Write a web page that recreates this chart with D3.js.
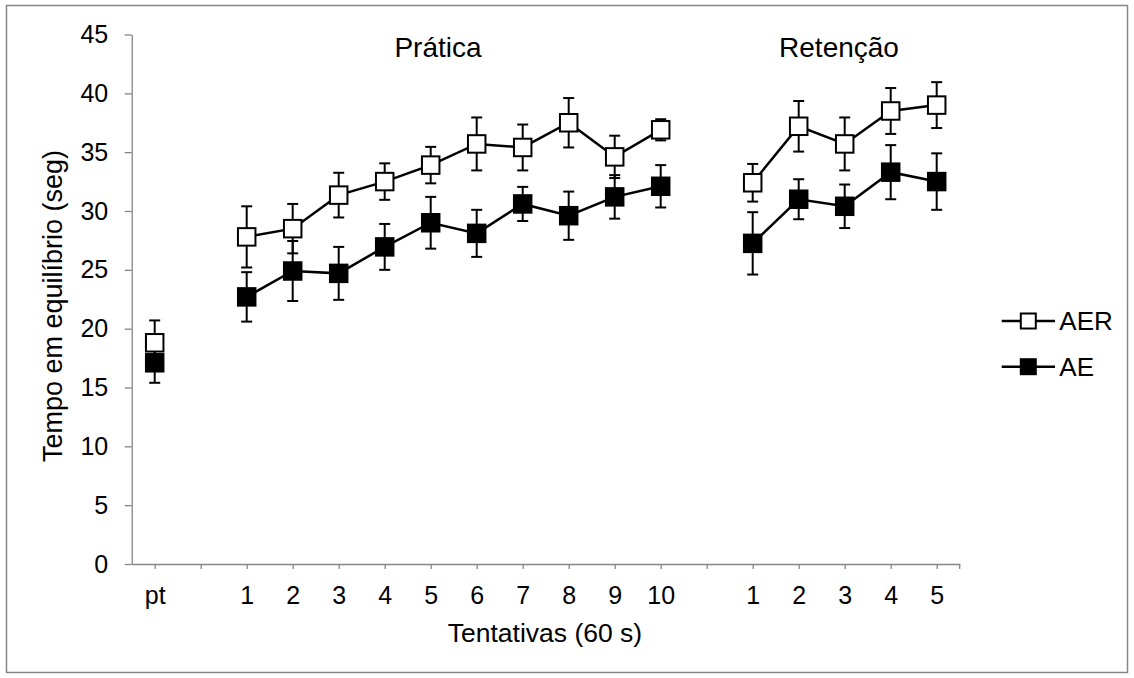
<!DOCTYPE html>
<html>
<head>
<meta charset="utf-8">
<script src="https://cdn.jsdelivr.net/npm/d3@7"></script>
<style>
  body { margin: 0; background: #fff; }
  text { font-family: "Liberation Sans", Arial, sans-serif; fill: #000; }
</style>
</head>
<body>
<div id="chart"></div>
<script>
// x slots: pt, gap, practice 1-10, gap, retention 1-5
const slotLabels = ["pt", "", "1", "2", "3", "4", "5", "6", "7", "8", "9", "10", "", "1", "2", "3", "4", "5"];
const aerMean = [18.8, null, 27.8, 28.5, 31.35, 32.5, 33.9, 35.7, 35.4, 37.5, 34.6, 36.9, null, 32.4, 37.2, 35.7, 38.5, 39.0];
const aerErr  = [1.9, null, 2.6, 2.1, 1.9, 1.55, 1.55, 2.25, 1.95, 2.1, 1.8, 0.9, null, 1.6, 2.15, 2.25, 1.95, 1.95];
const aeMean  = [17.1, null, 22.7, 24.9, 24.7, 26.95, 29.0, 28.1, 30.6, 29.6, 31.2, 32.1, null, 27.25, 31.0, 30.4, 33.3, 32.5];
const aeErr   = [1.7, null, 2.1, 2.55, 2.25, 1.95, 2.2, 2.0, 1.45, 2.05, 1.85, 1.8, null, 2.65, 1.7, 1.85, 2.3, 2.4];
const yTicks = [0, 5, 10, 15, 20, 25, 30, 35, 40, 45];
const groupTitles = ["Prática", "Retenção"];
const seriesNames = ["AER", "AE"];

const canvWidth = 1134, canvHeight = 678;
const svg = d3.select("#chart").append("svg")
    .attr("width", canvWidth)
    .attr("height", canvHeight);

// outer chart frame
svg.append("rect")
    .attr("x", 6.5).attr("y", 5.5)
    .attr("width", 1121).attr("height", 667)
    .attr("fill", "none")
    .attr("stroke", "#868686")
    .attr("stroke-width", 1.5);

const plot = {left: 131.7, right: 959.7, top: 34.5, bottom: 564};

const xScale = d3.scalePoint()
    .domain(d3.range(slotLabels.length))
    .range([plot.left, plot.right])
    .padding(0.5);

const yScale = d3.scaleLinear()
    .domain([0, 45])
    .range([plot.bottom, plot.top]);

// y axis
const yAxis = d3.axisLeft(yScale)
    .tickValues(yTicks)
    .tickSize(7)
    .tickSizeOuter(0)
    .tickPadding(16.5);
const gy = svg.append("g")
    .attr("transform", "translate(" + plot.left + ",0)")
    .call(yAxis);
gy.selectAll("text").style("font-size", "25px");

// x axis
const xAxis = d3.axisBottom(xScale)
    .tickFormat(i => slotLabels[i])
    .tickSize(5)
    .tickSizeOuter(0)
    .tickPadding(17);
const gx = svg.append("g")
    .attr("transform", "translate(0," + plot.bottom + ")")
    .call(xAxis);
gx.selectAll("text").style("font-size", "25px");
// closing tick at the right end of the axis
gx.append("line")
    .attr("x1", xScale.range()[1]).attr("x2", xScale.range()[1])
    .attr("y1", 0).attr("y2", 5);

svg.selectAll(".domain, .tick line, g > line")
    .attr("stroke", "#868686")
    .attr("stroke-width", 1.3);

// titles
svg.append("text")
    .attr("transform", "translate(62,306) rotate(-90)")
    .style("text-anchor", "middle")
    .style("font-size", "27px")
    .text("Tempo em equilíbrio (seg)");

svg.append("text")
    .attr("x", 545).attr("y", 642)
    .style("text-anchor", "middle")
    .style("font-size", "26.5px")
    .text("Tentativas (60 s)");

const titleX = [438, 839];
svg.selectAll(".group-title")
    .data(groupTitles)
    .enter().append("text")
    .attr("class", "group-title")
    .attr("x", (d, i) => titleX[i])
    .attr("y", 56.5)
    .style("text-anchor", "middle")
    .style("font-size", "28px")
    .text(d => d);

const series = [
  {name: seriesNames[0], mean: aerMean, err: aerErr, fill: "#fff"},
  {name: seriesNames[1], mean: aeMean, err: aeErr, fill: "#000"}
];

// error bars below everything
const capW = 11;
series.forEach(s => {
  const pts = s.mean.map((v, i) => ({i: i, v: v, e: s.err[i]})).filter(d => d.v != null);
  const eb = svg.append("g");
  eb.selectAll("line.stem").data(pts).enter().append("line")
      .attr("x1", d => xScale(d.i)).attr("x2", d => xScale(d.i))
      .attr("y1", d => yScale(d.v - d.e)).attr("y2", d => yScale(d.v + d.e))
      .attr("stroke", "#000").attr("stroke-width", 2);
  eb.selectAll("line.capt").data(pts).enter().append("line")
      .attr("x1", d => xScale(d.i) - capW / 2).attr("x2", d => xScale(d.i) + capW / 2)
      .attr("y1", d => yScale(d.v + d.e)).attr("y2", d => yScale(d.v + d.e))
      .attr("stroke", "#000").attr("stroke-width", 2);
  eb.selectAll("line.capb").data(pts).enter().append("line")
      .attr("x1", d => xScale(d.i) - capW / 2).attr("x2", d => xScale(d.i) + capW / 2)
      .attr("y1", d => yScale(d.v - d.e)).attr("y2", d => yScale(d.v - d.e))
      .attr("stroke", "#000").attr("stroke-width", 2);
});

// lines and markers
const mk = 17.5;
const line = d3.line()
    .defined(d => d.v != null)
    .x(d => xScale(d.i))
    .y(d => yScale(d.v));

series.forEach(s => {
  const pts = s.mean.map((v, i) => ({i: i, v: v}));
  svg.append("path")
      .datum(pts)
      .attr("d", line)
      .attr("fill", "none")
      .attr("stroke", "#000")
      .attr("stroke-width", 2.5);
  svg.append("g").selectAll("rect")
      .data(pts.filter(d => d.v != null))
      .enter().append("rect")
      .attr("x", d => xScale(d.i) - mk / 2)
      .attr("y", d => yScale(d.v) - mk / 2)
      .attr("width", mk).attr("height", mk)
      .attr("fill", s.fill)
      .attr("stroke", "#000")
      .attr("stroke-width", 2);
});

// legend
const legY = [321, 366.7];
const leg = svg.append("g");
series.forEach((s, i) => {
  leg.append("line")
      .attr("x1", 1001.7).attr("x2", 1055)
      .attr("y1", legY[i]).attr("y2", legY[i])
      .attr("stroke", "#000").attr("stroke-width", 2.5);
  leg.append("rect")
      .attr("x", 1028.3 - 7.5).attr("y", legY[i] - 7.5)
      .attr("width", 15).attr("height", 15)
      .attr("fill", s.fill).attr("stroke", "#000").attr("stroke-width", 2);
  leg.append("text")
      .attr("x", 1059.3).attr("y", legY[i])
      .attr("dy", "0.36em")
      .style("font-size", "26px")
      .text(s.name);
});
</script>
</body>
</html>
